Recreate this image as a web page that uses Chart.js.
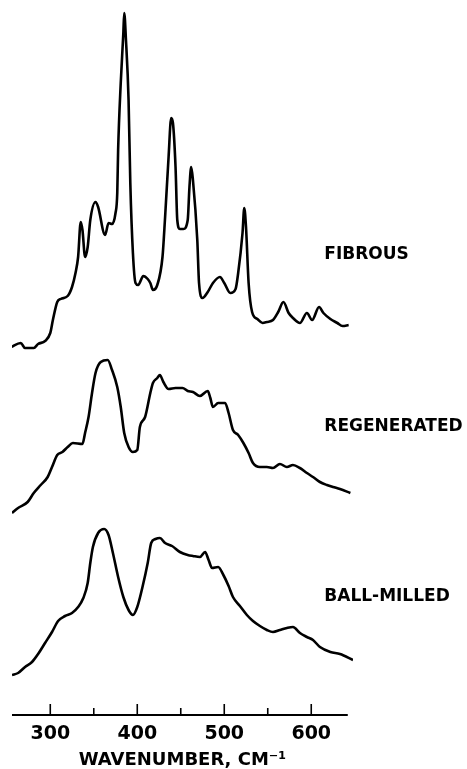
<!DOCTYPE html>
<html>
<head>
<meta charset="utf-8">
<script src="https://cdn.jsdelivr.net/npm/chart.js"></script>
<style>
  body { margin: 0; background: #fff; }
  #wrap { width: 467px; height: 769px; position: relative; }
</style>
</head>
<body>
<div id="wrap"><canvas id="chart"></canvas></div>
<script>
// series names
const seriesNames = ['FIBROUS', 'REGENERATED', 'BALL-MILLED']

// fibrous: wavenumber (cm-1) and intensity above its own baseline
const fibrousWn = [255, 266, 271, 281, 286, 294, 300, 303, 308, 312, 320, 325, 329, 332, 335, 337, 340, 343, 346, 352,
  355, 363, 367, 371, 375, 377, 378, 381, 384, 385, 387, 390, 392, 395, 398, 401, 407, 412, 415, 418,
  423, 429, 432, 436, 439, 441, 444, 446, 449, 453, 458, 460, 462, 464, 469, 471, 475, 481, 487, 495,
  500, 507, 513, 516, 521, 523, 525, 528, 532, 538, 544, 549, 556, 562, 568, 574, 579, 587, 595, 601,
  609, 614, 622, 630, 636, 643]
const fibrous = [0, 4, -1, -1, 3, 6, 14, 27, 45, 48, 51, 60, 74, 90, 125, 117, 90, 100, 127, 145,
  140, 112, 124, 123, 134, 154, 197, 264, 314, 334, 307, 247, 164, 94, 64, 62, 71, 68, 64, 57,
  62, 90, 130, 190, 229, 224, 180, 127, 118, 118, 127, 160, 180, 167, 107, 64, 49, 55, 64, 70,
  64, 54, 58, 74, 114, 139, 120, 64, 35, 28, 24, 25, 27, 35, 45, 34, 29, 24, 34, 27,
  40, 34, 28, 24, 21, 22]

// regenerated
const regenWn = [256, 263, 274, 281, 289, 297, 302, 308, 314, 320, 326, 337, 340, 344, 348, 352, 358, 366, 371, 377,
  381, 385, 390, 395, 400, 403, 409, 415, 418, 423, 426, 430, 436, 444, 452, 458, 464, 472, 481, 484,
  487, 493, 501, 505, 510, 516, 522, 528, 533, 541, 549, 556, 564, 572, 579, 587, 595, 602, 610, 618,
  625, 633, 645]
const regen = [0, 5, 11, 20, 28, 36, 46, 58, 61, 66, 70, 69, 80, 96, 120, 140, 151, 153, 143, 126,
  106, 80, 66, 61, 63, 86, 96, 120, 130, 135, 138, 131, 124, 125, 125, 122, 121, 117, 122, 115,
  106, 110, 110, 100, 83, 78, 70, 60, 50, 46, 46, 45, 49, 46, 48, 45, 40, 36, 31, 28,
  26, 24, 20]

// ball-milled
const ballWn = [256, 263, 271, 279, 286, 294, 302, 309, 317, 325, 332, 338, 343, 346, 349, 355, 362, 367, 372, 378,
  384, 390, 395, 400, 406, 412, 416, 421, 426, 432, 440, 449, 458, 464, 472, 478, 482, 486, 493, 499,
  505, 510, 518, 526, 533, 541, 549, 556, 564, 572, 579, 587, 595, 602, 610, 622, 633, 648]
const ball = [0, 2, 8, 13, 21, 32, 43, 54, 59, 62, 68, 77, 92, 112, 128, 142, 146, 140, 122, 98,
  78, 65, 60, 68, 88, 112, 132, 136, 137, 132, 129, 123, 120, 119, 118, 123, 115, 107, 108, 100,
  89, 78, 69, 60, 54, 49, 45, 43, 45, 47, 48, 42, 38, 35, 28, 23, 21, 15]

// vertical offset of each trace (arbitrary units)
const offsets = [368, 202, 40]
const xTicksMajor = [300, 400, 500, 600]

const seriesWn = [fibrousWn, regenWn, ballWn]
const seriesY = [fibrous, regen, ball]

const datasets = seriesNames.map(function(name, i){
    return {
        label: name,
        data: seriesWn[i].map(function(w, j){ return { x: w, y: seriesY[i][j] + offsets[i] } }),
        borderColor: '#000',
        borderWidth: 2.6,
        pointRadius: 0,
        fill: false,
        cubicInterpolationMode: 'monotone'
    }
})

// axis line and inward ticks
const axisPlugin = {
    id: 'axisTicks',
    afterDraw(chart) {
        const ctx = chart.ctx
        const xs = chart.scales.x
        const y0 = chart.chartArea.bottom
        ctx.save()
        ctx.strokeStyle = '#000'
        ctx.lineWidth = 2
        ctx.beginPath()
        ctx.moveTo(xs.getPixelForValue(256), y0)
        ctx.lineTo(xs.getPixelForValue(642), y0)
        ctx.stroke()
        ctx.lineWidth = 1.6
        xs.ticks.forEach(function(t){
            const px = xs.getPixelForValue(t.value)
            const len = xTicksMajor.includes(t.value) ? 11 : 7
            ctx.beginPath()
            ctx.moveTo(px, y0)
            ctx.lineTo(px, y0 - len)
            ctx.stroke()
        })
        ctx.restore()
    }
}

// trace names on the right
const namePlugin = {
    id: 'traceNames',
    afterDatasetsDraw(chart, args, opts) {
        const ctx = chart.ctx
        ctx.save()
        ctx.fillStyle = '#000'
        ctx.font = 'bold 17px "DejaVu Sans"'
        ctx.textAlign = 'left'
        ctx.textBaseline = 'middle'
        chart.data.datasets.forEach(function(ds, i){
            const px = chart.scales.x.getPixelForValue(opts.x)
            const py = chart.scales.y.getPixelForValue(offsets[i] + opts.lift[i])
            ctx.fillText(ds.label, px, py)
        })
        ctx.restore()
    }
}

document.addEventListener('DOMContentLoaded', function() {
    const ctx = document.getElementById('chart').getContext('2d')
    new Chart(ctx, {
        type: 'line',
        data: { datasets: datasets },
        plugins: [axisPlugin, namePlugin],
        options: {
            responsive: true,
            maintainAspectRatio: false,
            animation: false,
            layout: { padding: { left: 12, right: 114, top: 0, bottom: 0 } },
            plugins: {
                legend: { display: false },
                tooltip: { enabled: false },
                traceNames: { x: 615, lift: [92, 86, 78] }
            },
            scales: {
                x: {
                    type: 'linear',
                    min: 256,
                    max: 648,
                    grid: { display: false, drawTicks: false },
                    border: { display: false },
                    afterFit: function(scale){ scale.height = 54 },
                    ticks: {
                        stepSize: 50,
                        includeBounds: false,
                        autoSkip: false,
                        maxRotation: 0,
                        padding: 8,
                        color: '#000',
                        font: { family: 'DejaVu Sans', weight: 'bold', size: 19 },
                        callback: function(value){
                            return xTicksMajor.includes(value) ? value : ''
                        }
                    },
                    title: {
                        display: true,
                        text: 'WAVENUMBER, CM⁻¹',
                        color: '#000',
                        font: { family: 'DejaVu Sans', weight: 'bold', size: 18, lineHeight: 1 },
                        padding: { top: 0, bottom: 0 }
                    }
                },
                y: {
                    display: false,
                    min: 0,
                    max: 715
                }
            }
        }
    })
})
</script>
</body>
</html>
